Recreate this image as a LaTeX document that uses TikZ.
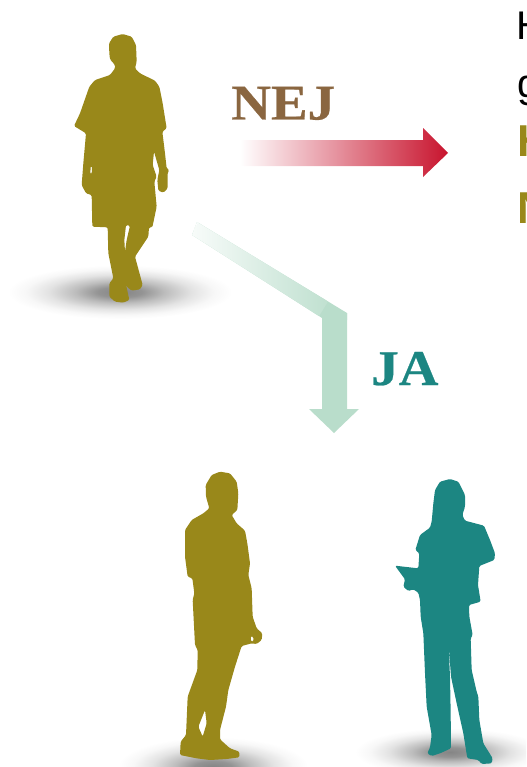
\documentclass[tikz,border=0pt]{standalone}
\usepackage{fontspec}
\setmainfont{Liberation Serif}
\newfontfamily\sansf{Liberation Sans}
\newfontfamily\wideserif{Liberation Serif}[FakeStretch=1.1,FakeBold=0.5]
\usetikzlibrary{shadings}
\definecolor{olivefig}{HTML}{99881A}
\definecolor{tealfig}{HTML}{1C8682}
\definecolor{nejc}{HTML}{8A6640}
\definecolor{arrred}{HTML}{C8142E}
\definecolor{arrgreen}{HTML}{B9DDCB}
\pgfdeclareradialshading{softblob}{\pgfpointorigin}{
  color(0bp)=(black!48); color(5bp)=(black!42); color(10bp)=(black!26);
  color(16bp)=(black!11); color(21bp)=(black!3); color(25bp)=(white); color(50bp)=(white)}
\tikzset{
  olivebody/.style={fill=olivefig,draw=none,even odd rule,rounded corners=1pt},
  tealbody/.style={fill=tealfig,draw=none,even odd rule,rounded corners=1pt},
  bigword/.style={font=\wideserif\bfseries\fontsize{37.5pt}{37.5pt}\selectfont,inner sep=0pt,anchor=base west},
  cut/.style={font=\sansf\fontsize{30pt}{30pt}\selectfont,inner sep=0pt,anchor=base west},
  cutb/.style={font=\sansf\bfseries\fontsize{33.5pt}{33.5pt}\selectfont,inner sep=0pt,anchor=base west},
  shade blob/.style={draw=none,shading=softblob},
  zoomed/.style={x=0.25pt,y=-0.25pt}
}
\begin{document}
\begin{tikzpicture}[x=0.75pt,y=-0.75pt,line join=round]
\useasboundingbox (0,0) rectangle (526,767);
\clip (0,0) rectangle (526,767);
% ground shadows
\shade[shade blob] (120,292) ellipse [x radius=112,y radius=27];
\shade[shade blob] (213,767) ellipse [x radius=95,y radius=30];
\shade[shade blob] (450,752) ellipse [x radius=95,y radius=24];
% red arrow
\shade[left color=white,right color=arrred,draw=none]
  (240,140) -- (423,140) -- (423,128) -- (448,153) -- (423,177) -- (423,166) -- (240,166) -- cycle;
% green arrow
\begin{scope}
\clip (197,222) -- (347,313) -- (347,320) -- (322,320) -- (322,318) -- (192,235) -- cycle;
\fill[arrgreen] (190,220) rectangle (350,325);
\begin{scope}[shift={(194.5,228.5)},rotate=-31.7]
\fill[white] (-20,-40) rectangle (0.5,40);
\shade[left color=white,right color=arrgreen] (0,-40) rectangle (152,40);
\end{scope}
\end{scope}
\fill[arrgreen] (347,313) -- (347,409) -- (359,409) -- (334,433) -- (309,409) -- (322,409) -- (322,318) -- cycle;
\node[bigword,text=nejc] (nej) at (231,119.5) {NEJ};
\node[bigword,text=tealfig] (ja) at (371,385) {JA};
\node[cut,text=black] (t1) at (516.5,40) {H};
\node[cut,text=black] (t2) at (517,98) {g};
\node[cutb,text=olivefig] (t3) at (517,156) {H};
\node[cutb,text=olivefig] (t4) at (517,223) {N};
% walking man
\begin{scope}[shift={(0,20)},zoomed]
\fill[olivebody] (345,135)--(330,118)--(328,100)--(327,70)--(340,50)--(368,42)--(395,50)--(408,75)--(410,125)--(405,145)--(420,160)--(465,182)--(478,200)--(488,250)--(500,325)--(487,335)--(495,400)--(500,445)--(508,450)--(503,458)--(503,505)--(490,518)--(475,512)--(472,480)--(478,450)--(462,395)--(458,435)--(470,470)--(463,485)--(470,560)--(457,622)--(447,622)--(445,650)--(405,710)--(428,795)--(420,808)--(395,812)--(380,800)--(370,755)--(388,840)--(370,848)--(345,845)--(328,830)--(328,790)--(340,775)--(325,700)--(323,622)--(277,620)--(275,525)--(258,520)--(245,495)--(250,430)--(258,340)--(222,318)--(240,280)--(268,200)--(285,180)--(330,165)--(345,145)--cycle
 (378,615)--(390,617)--(380,660)--(375,695)--(373,660)--cycle
 (272,438)--(276,438)--(275,462)--(271,462)--cycle;
\end{scope}
% standing man
\begin{scope}[shift={(120,460)},zoomed]
\fill[olivebody] (268,145)--(258,110)--(257,75)--(275,45)--(300,35)--(330,40)--(350,65)--(355,100)--(352,150)--(335,165)--(350,190)--(375,212)--(382,250)--(390,310)--(385,345)--(395,385)--(398,470)--(410,505)--(427,520)--(425,540)--(410,552)--(395,550)--(365,558)--(345,620)--(325,690)--(318,740)--(300,810)--(300,838)--(330,865)--(358,875)--(358,892)--(320,897)--(270,900)--(230,895)--(180,885)--(182,845)--(198,825)--(203,710)--(232,630)--(233,570)--(225,555)--(218,420)--(223,400)--(217,355)--(203,350)--(195,290)--(195,210)--(215,180)--(250,160)--cycle
 (255,750)--(260,790)--(248,830)--(235,800)--cycle
 (392,528)--(400,530)--(400,545)--(393,545)--cycle;
\end{scope}
% woman
\begin{scope}[shift={(350,460)},zoomed]
\fill[tealbody] (245,185)--(250,130)--(255,90)--(270,65)--(300,57)--(325,65)--(345,105)--(345,140)--(337,165)--(345,182)--(402,197)--(420,240)--(435,280)--(433,300)--(388,318)--(384,375)--(392,425)--(357,435)--(358,470)--(368,525)--(362,535)--(365,630)--(380,695)--(385,710)--(388,780)--(400,850)--(428,895)--(425,910)--(395,912)--(385,900)--(352,895)--(340,820)--(320,730)--(303,650)--(295,540)--(300,650)--(302,760)--(303,865)--(270,880)--(245,888)--(232,880)--(240,862)--(245,825)--(230,740)--(225,640)--(220,520)--(212,470)--(210,420)--(205,398)--(190,388)--(175,393)--(160,380)--(165,358)--(135,317)--(205,325)--(208,280)--(196,270)--(210,225)--(240,203)--cycle;
\end{scope}
\end{tikzpicture}
\end{document}
